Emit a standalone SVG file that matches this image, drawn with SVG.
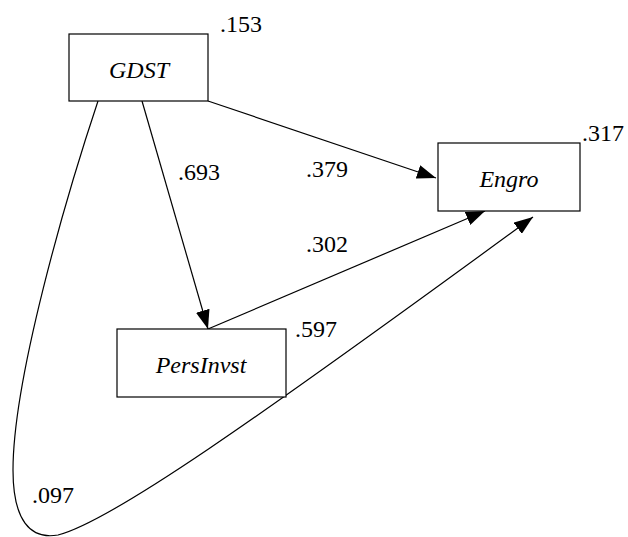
<svg xmlns="http://www.w3.org/2000/svg" width="628" height="537" viewBox="0 0 628 537">
<defs>
<marker id="arr" markerUnits="userSpaceOnUse" markerWidth="20" markerHeight="14" refX="19" refY="7" orient="auto">
<path d="M0,0 L19,7 L0,14 z" fill="#000"/>
</marker>
</defs>
<rect width="628" height="537" fill="#fff"/>
<g id="connectors" fill="none" stroke="#000" stroke-width="1.2">
<line x1="142" y1="101" x2="208" y2="329" marker-end="url(#arr)"/>
<line x1="208" y1="101" x2="436" y2="178" marker-end="url(#arr)"/>
<line x1="208" y1="329" x2="485" y2="211" marker-end="url(#arr)"/>
<path d="M98,101 C65,200 13,380 13,470 C13,520 30,540 58,535 C110,522 250,424 533,217" marker-end="url(#arr)"/>
</g>
<g id="edge-labels" font-family="'Liberation Serif', serif" font-size="24" fill="#000">
<text x="178" y="180">.693</text>
<text x="306" y="177">.379</text>
<text x="306" y="252">.302</text>
<text x="32" y="503">.097</text>
</g>
<g id="GDST" font-family="'Liberation Serif', serif" font-size="24" fill="#000">
<rect x="69" y="34" width="139" height="67" fill="#fff" stroke="#000" stroke-width="1.2"/>
<text x="139" y="78" font-style="italic" text-anchor="middle">GDST</text>
<text x="220" y="32">.153</text>
</g>
<g id="Engro" font-family="'Liberation Serif', serif" font-size="24" fill="#000">
<rect x="438" y="143" width="142" height="68" fill="#fff" stroke="#000" stroke-width="1.2"/>
<text x="509" y="187" font-style="italic" text-anchor="middle">Engro</text>
<text x="582" y="141">.317</text>
</g>
<g id="PersInvst" font-family="'Liberation Serif', serif" font-size="24" fill="#000">
<rect x="117" y="329" width="169" height="68" fill="#fff" stroke="#000" stroke-width="1.2"/>
<text x="201" y="373" font-style="italic" text-anchor="middle">PersInvst</text>
<text x="295" y="337">.597</text>
</g>
</svg>
